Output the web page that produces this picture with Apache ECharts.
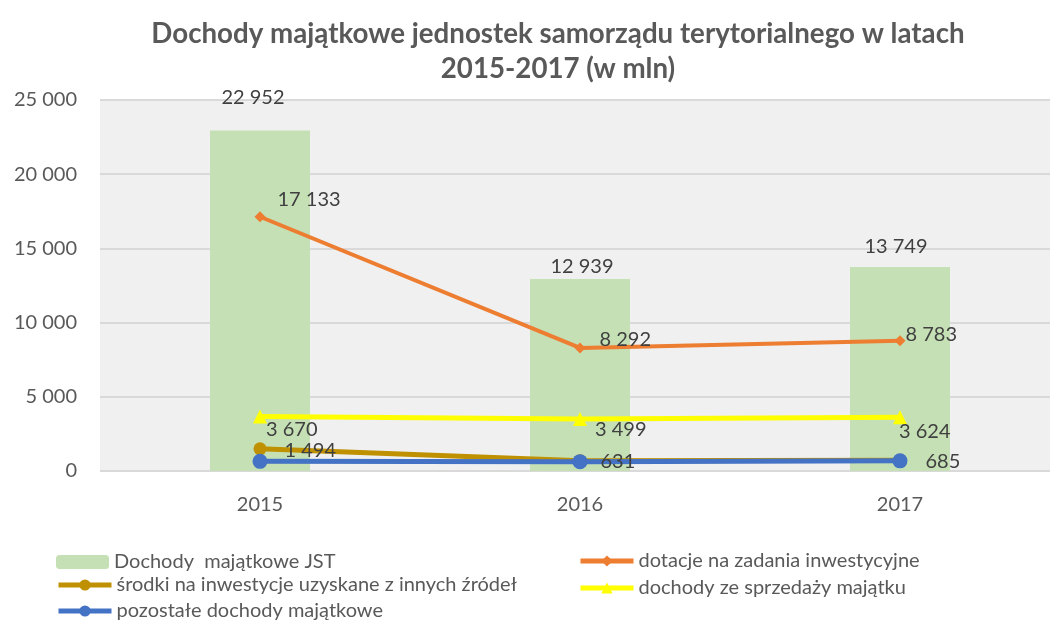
<!DOCTYPE html>
<html>
<head>
<meta charset="utf-8">
<script src="https://cdn.jsdelivr.net/npm/echarts@6/dist/echarts.min.js"></script>
<style>
  html, body { margin: 0; padding: 0; background: #fff; }
  #chart { width: 1050px; height: 628px; }
</style>
</head>
<body>
<div id="chart"></div>
<script>
// Dochody majątkowe JST, 2015-2017 (mln zł)
const years = ['2015', '2016', '2017'];
const dochodyJST = [22952, 12939, 13749];
const dotacje = [17133, 8292, 8783];
const srodki = [1494, 690, 730];
const sprzedaz = [3670, 3499, 3624];
const pozostale = [650, 631, 685];
const yTicks = { min: 0, max: 25000, interval: 5000 };

const FONT = 'Lato, "Open Sans", sans-serif';
const TEXT = '#595959';
const LABEL = '#404040';

const fmt = v => String(Math.round(v)).replace(/\B(?=(\d{3})+(?!\d))/g, ' ');

// per-point label placement (offsets in px from the default spot)
function labelled(values, offsets, showMask) {
  return values.map((v, i) => ({
    value: v,
    label: {
      show: showMask ? showMask[i] : true,
      offset: offsets[i]
    }
  }));
}

const baseLabel = {
  show: true,
  position: 'right',
  distance: 4,
  color: LABEL,
  fontFamily: FONT,
  fontSize: 20,
  formatter: p => fmt(p.value)
};

// one legend block per entry, laid out in two columns
function legendEntry(name, left, centerY) {
  return {
    left: left,
    top: centerY - 12,
    padding: 0,
    itemWidth: 53,
    itemHeight: 14,
    lineStyle: { width: 5 },
    textStyle: { fontFamily: FONT, fontSize: 20, color: TEXT, lineHeight: 24 },
    data: [name]
  };
}

const chart = echarts.init(document.getElementById('chart'));
chart.setOption({
  animation: false,
  title: {
    text: 'Dochody majątkowe jednostek samorządu terytorialnego w latach\n2015-2017 (w mln)',
    left: 553,
    textAlign: 'center',
    top: 12,
    textStyle: {
      fontFamily: FONT,
      fontWeight: 'bold',
      fontSize: 27.7,
      lineHeight: 35,
      color: TEXT
    }
  },
  grid: {
    left: 100,
    width: 960,
    top: 100,
    bottom: 157,
    outerBoundsMode: 'none',
    containLabel: false,
    show: true,
    backgroundColor: '#f0f0f0',
    borderWidth: 0
  },
  legend: [
    legendEntry('Dochody  majątkowe JST', 56, 562),
    legendEntry('środki na inwestycje uzyskane z innych źródeł', 56, 585),
    legendEntry('pozostałe dochody majątkowe', 56, 611),
    legendEntry('dotacje na zadania inwestycyjne', 578, 561),
    legendEntry('dochody ze sprzedaży majątku', 578, 588)
  ],
  xAxis: {
    type: 'category',
    data: years,
    axisLine: { show: false },
    axisTick: { show: false },
    axisLabel: { fontFamily: FONT, fontSize: 20, color: TEXT, margin: 24 }
  },
  yAxis: {
    type: 'value',
    min: yTicks.min,
    max: yTicks.max,
    interval: yTicks.interval,
    axisLine: { show: false },
    axisTick: { show: false },
    splitLine: { lineStyle: { color: '#d9d9d9', width: 2 } },
    axisLabel: { fontFamily: FONT, fontSize: 20, color: TEXT, margin: 23, formatter: fmt }
  },
  series: [
    {
      name: 'Dochody  majątkowe JST',
      type: 'bar',
      barWidth: 100,
      itemStyle: { color: '#c5e0b4' },
      label: Object.assign({}, baseLabel, { position: 'top', distance: 5 }),
      data: labelled(dochodyJST, [[-7, -18], [2, 3], [-4, -5]])
    },
    {
      name: 'dotacje na zadania inwestycyjne',
      type: 'line',
      symbol: 'diamond',
      symbolSize: 11,
      lineStyle: { color: '#ed7d31', width: 4 },
      itemStyle: { color: '#ed7d31' },
      label: baseLabel,
      data: labelled(dotacje, [[8, -17], [10, -8], [-4, -6]])
    },
    {
      name: 'środki na inwestycje uzyskane z innych źródeł',
      type: 'line',
      symbol: 'circle',
      symbolSize: 13,
      lineStyle: { color: '#bf9000', width: 5 },
      itemStyle: { color: '#bf9000' },
      label: baseLabel,
      data: labelled(srodki, [[14, 2], [0, 0], [0, 0]], [true, false, false])
    },
    {
      name: 'dochody ze sprzedaży majątku',
      type: 'line',
      symbol: 'triangle',
      symbolSize: 14,
      lineStyle: { color: '#ffff00', width: 5 },
      itemStyle: { color: '#ffff00' },
      label: baseLabel,
      data: labelled(sprzedaz, [[-5, 13], [4, 10], [-12, 14]])
    },
    {
      name: 'pozostałe dochody majątkowe',
      type: 'line',
      symbol: 'circle',
      symbolSize: 15,
      lineStyle: { color: '#4472c4', width: 5 },
      itemStyle: { color: '#4472c4' },
      label: baseLabel,
      data: labelled(pozostale, [[0, 0], [9, 0], [14, 1]], [false, true, true])
    }
  ]
});
</script>
</body>
</html>
